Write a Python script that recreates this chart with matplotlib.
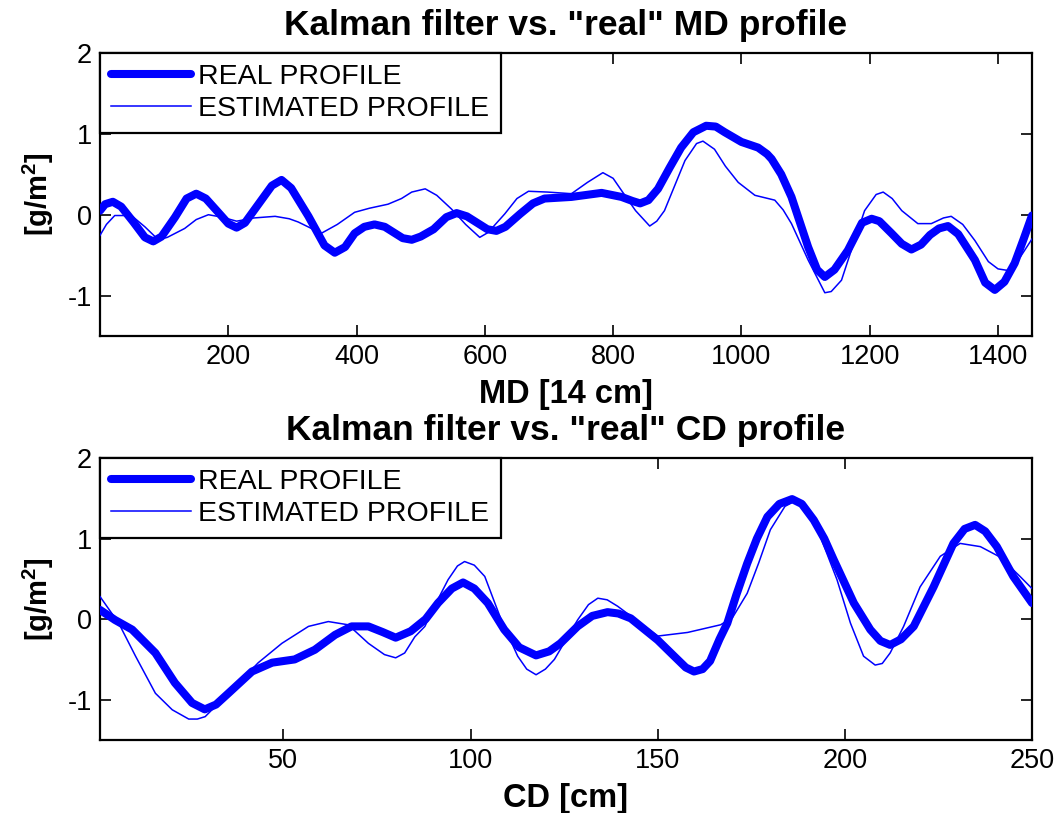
import matplotlib
matplotlib.use("Agg")
import matplotlib.pyplot as plt
from matplotlib import font_manager

# ---------------- data ----------------
md_real_x = [0, 8, 20, 33, 52, 70, 83, 96, 117, 135, 150, 165, 182, 200, 213, 226,
             247, 268, 283, 298, 325, 350, 366, 382, 397, 412, 428, 444, 460, 472,
             486, 500, 520, 540, 556, 572, 590, 604, 618, 632, 655, 675, 693, 735,
             782, 813, 830, 842, 855, 870, 888, 906, 925, 945, 960, 974, 1000, 1026,
             1040, 1047, 1062, 1078, 1104, 1118, 1130, 1145, 1166, 1188, 1203, 1215,
             1234, 1250, 1265, 1280, 1294, 1308, 1322, 1338, 1364, 1380, 1395, 1410,
             1426, 1440, 1453]
md_real_y = [0.05, 0.13, 0.16, 0.10, -0.09, -0.28, -0.33, -0.27, -0.03, 0.20, 0.26,
             0.20, 0.05, -0.11, -0.16, -0.10, 0.13, 0.36, 0.43, 0.33, -0.02, -0.38,
             -0.47, -0.40, -0.23, -0.15, -0.12, -0.15, -0.23, -0.29, -0.31, -0.27,
             -0.18, -0.03, 0.02, -0.02, -0.11, -0.18, -0.20, -0.15, 0.01, 0.14, 0.20,
             0.22, 0.27, 0.22, 0.17, 0.14, 0.18, 0.32, 0.58, 0.83, 1.02, 1.10, 1.09,
             1.02, 0.90, 0.83, 0.75, 0.69, 0.50, 0.22, -0.40, -0.68, -0.77, -0.68,
             -0.44, -0.10, -0.05, -0.08, -0.23, -0.36, -0.43, -0.37, -0.25, -0.17,
             -0.14, -0.24, -0.56, -0.84, -0.93, -0.83, -0.60, -0.30, -0.01]

md_est_x = [0, 10, 23, 49, 70, 91, 105, 132, 150, 169, 190, 213, 240, 273, 295, 309,
            345, 370, 397, 420, 449, 470, 486, 507, 525, 548, 570, 592, 605, 631, 650,
            668, 698, 735, 760, 784, 800, 813, 835, 857, 868, 880, 912, 930, 940, 958,
            975, 995, 1021, 1052, 1065, 1078, 1104, 1130, 1140, 1156, 1175, 1192,
            1210, 1221, 1235, 1250, 1275, 1296, 1315, 1327, 1345, 1364, 1385, 1400,
            1416, 1435, 1453]
md_est_y = [-0.255, -0.12, -0.01, -0.01, -0.15, -0.31, -0.28, -0.17, -0.06, 0.0,
            -0.03, -0.08, -0.04, -0.02, -0.05, -0.09, -0.23, -0.12, 0.03, 0.08, 0.13,
            0.20, 0.28, 0.32, 0.24, 0.07, -0.12, -0.28, -0.22, 0.01, 0.20, 0.29, 0.28,
            0.26, 0.40, 0.52, 0.45, 0.30, 0.05, -0.14, -0.08, 0.05, 0.67, 0.88, 0.91,
            0.81, 0.60, 0.40, 0.24, 0.18, 0.06, -0.11, -0.56, -0.965, -0.95, -0.81,
            -0.35, 0.05, 0.25, 0.28, 0.20, 0.05, -0.11, -0.11, -0.04, -0.02, -0.12,
            -0.32, -0.58, -0.67, -0.69, -0.52, -0.30]

cd_real_x = [1, 5, 9.6, 15.8, 21, 25.6, 29, 32, 35.3, 41.6, 47, 53, 58.4, 63.8, 68.2,
             72.7, 76.5, 80, 84, 88, 91.3, 95, 98, 101, 104.6, 109, 113, 117.5, 121,
             124, 128.6, 132.5, 136.6, 139.5, 142.8, 150, 154.4, 157.5, 159.7, 162,
             164, 166.5, 168.6, 171, 173.9, 176.5, 179.3, 182.5, 185.9, 188.5, 191.7,
             194.5, 197, 202.4, 206.8, 209.5, 212.1, 215, 218.4, 223.7, 229, 232,
             234.8, 237.5, 240.6, 245, 250]
cd_real_y = [0.115, -0.01, -0.13, -0.42, -0.79, -1.04, -1.12, -1.06, -0.92, -0.65,
             -0.54, -0.50, -0.38, -0.195, -0.09, -0.09, -0.16, -0.23, -0.15, 0.0,
             0.20, 0.38, 0.455, 0.38, 0.20, -0.13, -0.35, -0.45, -0.40, -0.30, -0.09,
             0.04, 0.087, 0.07, 0.01, -0.26, -0.46, -0.60, -0.65, -0.62, -0.52,
             -0.25, -0.05, 0.30, 0.69, 1.00, 1.27, 1.43, 1.49, 1.43, 1.23, 1.00,
             0.74, 0.20, -0.13, -0.27, -0.32, -0.25, -0.09, 0.40, 0.94, 1.12, 1.17,
             1.09, 0.90, 0.53, 0.20]

cd_est_x = [1, 6, 10.5, 15.8, 20.3, 24.7, 27, 29.1, 35.3, 43.3, 49.6, 56.7, 62, 67.3,
            72.7, 77, 80, 82.4, 85.1, 87.8, 91, 94, 96.5, 98.4, 101, 103.8, 108.2,
            112.6, 115, 117.5, 120, 122.4, 128.6, 131.5, 134, 136.5, 139.3, 150, 158,
            166.8, 170, 173.9, 177, 180.1, 184, 187.3, 190, 193.5, 197.9, 201.5, 205,
            208.1, 210, 212.1, 215.7, 220.1, 225.5, 230.8, 236.2, 241.5, 246.8, 250]
cd_est_y = [0.28, -0.05, -0.46, -0.92, -1.125, -1.24, -1.24, -1.21, -0.92, -0.54,
            -0.30, -0.09, -0.03, -0.07, -0.30, -0.44, -0.48, -0.42, -0.22, -0.09,
            0.22, 0.49, 0.66, 0.715, 0.67, 0.53, -0.01, -0.46, -0.62, -0.69, -0.62,
            -0.50, -0.01, 0.18, 0.26, 0.24, 0.16, -0.21, -0.165, -0.07, 0.02, 0.32,
            0.70, 1.11, 1.40, 1.48, 1.35, 1.02, 0.49, -0.05, -0.46, -0.57, -0.55,
            -0.42, -0.09, 0.40, 0.78, 0.94, 0.90, 0.77, 0.53, 0.38]

md_ticks = [200, 400, 600, 800, 1000, 1200, 1400]
cd_ticks = [50, 100, 150, 200, 250]
y_ticks = [-1, 0, 1, 2]
legend_labels = ["REAL PROFILE", "ESTIMATED PROFILE"]
titles = ['Kalman filter vs. "real" MD profile', 'Kalman filter vs. "real" CD profile']
xlabels = ["MD [14 cm]", "CD [cm]"]
ylabel = r"[g/m$^{\mathbf{2}}$]"

# ---------------- style ----------------
names = {f.name for f in font_manager.fontManager.ttflist}
base = "Liberation Sans" if "Liberation Sans" in names else "DejaVu Sans"
narrow = "Liberation Sans Narrow" if "Liberation Sans Narrow" in names else base
plt.rcParams["font.family"] = [base, "DejaVu Sans"]
plt.rcParams["axes.unicode_minus"] = False
plt.rcParams["mathtext.fontset"] = "custom"
plt.rcParams["mathtext.rm"] = base
plt.rcParams["mathtext.bf"] = base + ":bold"

BLUE = "#0000ff"
W, H = 1061, 813
fig = plt.figure(figsize=(W / 100, H / 100), dpi=100)
fig.patch.set_facecolor("white")

ax1 = fig.add_axes([100 / W, 1 - 336 / H, 932 / W, (336 - 53) / H])
ax2 = fig.add_axes([100 / W, 1 - 740 / H, 932 / W, (740 - 458) / H])

panels = [
    (ax1, md_real_x, md_real_y, md_est_x, md_est_y, (0, 1453), md_ticks),
    (ax2, cd_real_x, cd_real_y, cd_est_x, cd_est_y, (1, 250), cd_ticks),
]

for i, (ax, rx, ry, ex, ey, xl, xt) in enumerate(panels):
    ax.plot(rx, ry, color=BLUE, lw=5.8, solid_joinstyle="round",
            solid_capstyle="round", label=legend_labels[0], zorder=3)
    ax.plot(ex, ey, color=BLUE, lw=1.1, label=legend_labels[1], zorder=4)
    ax.set_xlim(*xl)
    ax.set_ylim(-1.5, 2)
    ax.set_xticks(xt)
    ax.set_yticks(y_ticks)
    ax.tick_params(direction="in", length=8, width=1.2, top=True, right=True,
                   labelsize=19.5, pad=6)
    for lab in ax.get_xticklabels() + ax.get_yticklabels():
        lab.set_fontfamily([narrow, base])
    for s in ax.spines.values():
        s.set_linewidth(1.6)
    ax.set_title(titles[i], fontsize=25.5, fontweight="bold", pad=13)
    ax.set_xlabel(xlabels[i], fontsize=23.5, fontweight="bold", labelpad=6)
    ax.set_ylabel(ylabel, fontsize=21, fontweight="bold", labelpad=8)
    leg = ax.legend(loc="upper left", bbox_to_anchor=(0, 1), borderaxespad=0,
                    fontsize=20.5, frameon=True, fancybox=False, handlelength=2.8,
                    handletextpad=0.25, labelspacing=0.2, borderpad=0.4)
    leg.get_frame().set_edgecolor("black")
    leg.get_frame().set_linewidth(1.6)
    leg.get_frame().set_alpha(1)
    leg.set_zorder(10)

fig.savefig("out.png", dpi=100, facecolor="white")
